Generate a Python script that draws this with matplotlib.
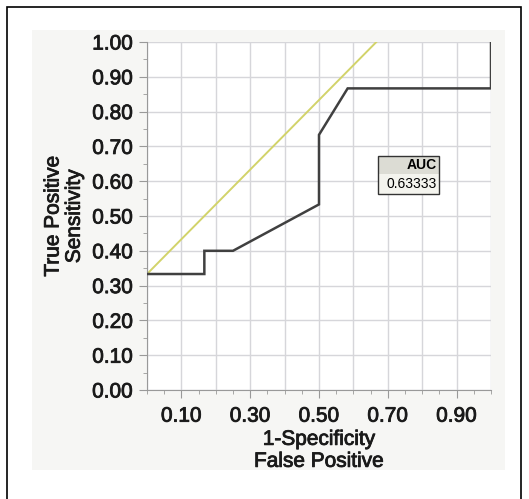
import matplotlib
matplotlib.use("Agg")
import matplotlib.pyplot as plt
from matplotlib.patches import Rectangle
import matplotlib.patheffects as pe

plt.rcParams['font.family'] = ['Liberation Sans', 'DejaVu Sans']

# ROC curve vertices
fpr = [0.0, 0.1667, 0.1667, 0.25, 0.5, 0.5, 0.5833, 1.0, 1.0]
tpr = [0.3333, 0.3333, 0.4, 0.4, 0.5333, 0.7333, 0.8667, 0.8667, 1.0]
# Reference diagonal
diag_x = [0.0, 0.6667]
diag_y = [0.3333, 1.0]
auc_value = "0.63333"
x_tick_vals = [0.1, 0.3, 0.5, 0.7, 0.9]
y_tick_vals = [0.0, 0.1, 0.2, 0.3, 0.4, 0.5, 0.6, 0.7, 0.8, 0.9, 1.0]

W, H = 529, 499
fig = plt.figure(figsize=(W/100, H/100), dpi=100)
fig.patch.set_facecolor('white')

# outer border and light panel
fig.patches.append(Rectangle((7/W, -0.05), (521-7)/W, (H-7)/H + 0.05, transform=fig.transFigure,
                             fill=False, edgecolor='black', linewidth=1.2, zorder=-10))
fig.patches.append(Rectangle((32/W, (H-470)/H), (505-32)/W, (470-30)/H, transform=fig.transFigure,
                             facecolor='#f6f6f4', edgecolor='none', zorder=-10))

ax = fig.add_axes([147/W, 109/H, 344/W, 348/H])
ax.set_zorder(5)
ax.set_facecolor('white')
ax.set_xlim(0, 1)
ax.set_ylim(0, 1)

grid_c = '#d6d6da'
for v in [i/10 for i in range(11)]:
    ax.axvline(v, color=grid_c, linewidth=1.0, zorder=0)
    ax.axhline(v, color=grid_c, linewidth=1.0, zorder=0)

ax.plot(diag_x, diag_y, color='#d2d36a', linewidth=1.4, zorder=2)
ax.plot(fpr, tpr, color='#404040', linewidth=1.8, zorder=3, solid_joinstyle='miter')

fs = 15
heavy = [pe.withStroke(linewidth=0.6, foreground='#1a1a1a')]
ax.set_xticks(x_tick_vals)
ax.set_xticklabels([f"{v:.2f}" for v in x_tick_vals], fontsize=fs, color='#1a1a1a')
ax.set_xticks([i/20 for i in range(21)], minor=True)
ax.set_yticks(y_tick_vals)
ax.set_yticklabels([f"{v:.2f}" for v in y_tick_vals], fontsize=fs, color='#1a1a1a')
ax.set_yticks([i/20 for i in range(21)], minor=True)
ax.tick_params(axis='both', which='major', length=6, color='#999999', direction='out', pad=4)
ax.tick_params(axis='both', which='minor', length=3, color='#999999', direction='out')
ax.tick_params(axis='x', which='major', pad=6)
for t in ax.get_xticklabels() + ax.get_yticklabels():
    t.set_path_effects(heavy)

for s in ['top', 'right']:
    ax.spines[s].set_visible(False)
for s in ['left', 'bottom']:
    ax.spines[s].set_color('#999999')

xl = ax.set_xlabel("1-Specificity\nFalse Positive", fontsize=fs, linespacing=1.2, labelpad=3,
                   color='#1a1a1a')
yl = ax.set_ylabel("True Positive\nSensitivity", fontsize=fs, linespacing=1.15, labelpad=6,
                   color='#1a1a1a')
xl.set_path_effects(heavy)
yl.set_path_effects(heavy)

# AUC box
bx0, bx1 = 0.671, 0.850
by_top, by_mid, by_bot = 0.672, 0.622, 0.563
ax.add_patch(Rectangle((bx0, by_mid), bx1-bx0, by_top-by_mid, facecolor='#dcdcd4',
                       edgecolor='none', zorder=4))
ax.add_patch(Rectangle((bx0, by_bot), bx1-bx0, by_mid-by_bot, facecolor='#f4f4ee',
                       edgecolor='none', zorder=4))
ax.add_patch(Rectangle((bx0, by_bot), bx1-bx0, by_top-by_bot, fill=False,
                       edgecolor='#333333', linewidth=1.0, zorder=5))
ax.text(bx1-0.008, (by_top+by_mid)/2, "AUC", ha='right', va='center', fontsize=10,
        fontweight='bold', zorder=6)
ax.text(bx1-0.008, (by_mid+by_bot)/2, auc_value, ha='right', va='center', fontsize=10,
        zorder=6)

fig.savefig("out.png", dpi=100)
